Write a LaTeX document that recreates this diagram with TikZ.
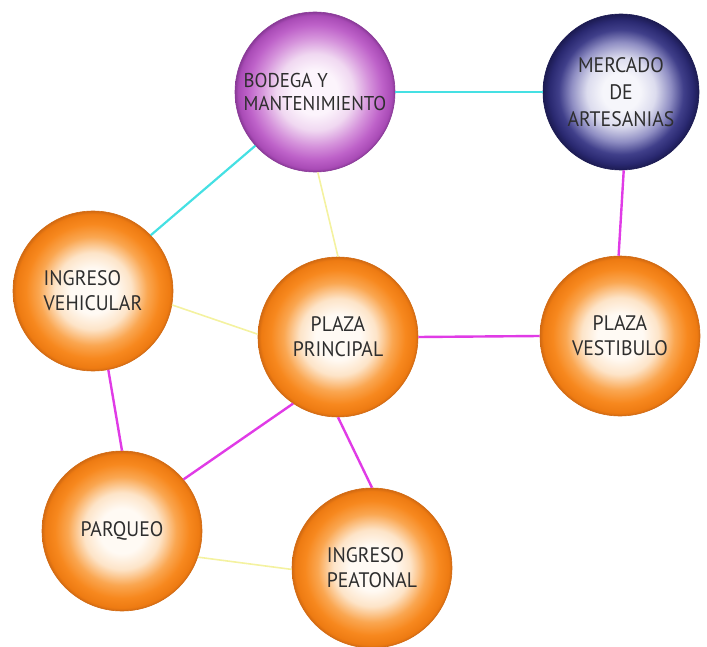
\documentclass[tikz,border=0pt]{standalone}
\usepackage{fontspec}
\setmainfont{PT Sans}[FakeStretch=0.94]
\usetikzlibrary{positioning}

\definecolor{textgray}{HTML}{2E2E2E}
\definecolor{orangeedge}{HTML}{D26A12}
\definecolor{purpleedge}{HTML}{8A3A98}
\definecolor{navyedge}{HTML}{1C1B52}
\definecolor{linkcyan}{HTML}{45E0E3}
\definecolor{linkmagenta}{HTML}{E03BE6}
\definecolor{linkyellow}{HTML}{F4F2A0}

% orange, purple and navy balls
\definecolor{ocA}{HTML}{FFFAF4}
\definecolor{ocB}{HTML}{FDE4C8}
\definecolor{ocC}{HTML}{FAA650}
\definecolor{ocD}{HTML}{F7881E}
\definecolor{ocE}{HTML}{EE7B12}
\definecolor{pcA}{HTML}{FCF4FC}
\definecolor{pcB}{HTML}{F0D8F1}
\definecolor{pcC}{HTML}{D592DB}
\definecolor{pcD}{HTML}{BE62C9}
\definecolor{pcE}{HTML}{A94BB6}
\definecolor{ncA}{HTML}{F6F6FB}
\definecolor{ncB}{HTML}{DCDCEE}
\definecolor{ncC}{HTML}{8F8EC3}
\definecolor{ncD}{HTML}{403F8A}
\definecolor{ncE}{HTML}{2A2971}

\pgfdeclareradialshading{orangeshade}{\pgfpoint{0bp}{0bp}}{%
  color(0bp)=(ocA); color(7bp)=(ocA); color(12bp)=(ocB); color(17bp)=(ocC);
  color(21bp)=(ocD); color(24bp)=(ocE); color(25bp)=(orangeedge); color(50bp)=(orangeedge)}
\pgfdeclareradialshading{purpleshade}{\pgfpoint{0bp}{0bp}}{%
  color(0bp)=(pcA); color(7bp)=(pcA); color(12bp)=(pcB); color(17bp)=(pcC);
  color(21bp)=(pcD); color(24bp)=(pcE); color(25bp)=(purpleedge); color(50bp)=(purpleedge)}
\pgfdeclareradialshading{navyshade}{\pgfpoint{0bp}{0bp}}{%
  color(0bp)=(ncA); color(6bp)=(ncA); color(11bp)=(ncB); color(16bp)=(ncC);
  color(20bp)=(ncD); color(23bp)=(ncE); color(25bp)=(navyedge); color(50bp)=(navyedge)}

\begin{document}
\begin{tikzpicture}[x=1pt, y=-1pt,
      ball/.style={circle, minimum size=160pt, inner sep=0pt, text=textgray,
         line width=0.6pt, font=\fontsize{21}{25}\selectfont},
      orangeball/.style={ball, shading=orangeshade, draw=orangeedge},
      purpleball/.style={ball, shading=purpleshade, draw=purpleedge,
         font=\fontsize{20}{23}\selectfont},
      navyball/.style={ball, shading=navyshade, draw=navyedge, minimum size=156pt,
         font=\fontsize{21}{27}\selectfont},
      cyanlink/.style={draw=linkcyan, line width=2.2pt},
      magentalink/.style={draw=linkmagenta, line width=2.4pt},
      yellowlink/.style={draw=linkyellow, line width=1.6pt}]

      \useasboundingbox (0,0) rectangle (707,647);

      % Draw the zones
      \node[purpleball, align=left] (bodega) at (315,92) {BODEGA Y\\MANTENIMIENTO};
      \node[navyball, align=center] (mercado) at (621,92) {MERCADO\\DE\\ARTESANIAS};
      \node[orangeball, align=left] (vehicular) at (93,291) {INGRESO\\VEHICULAR};
      \node[orangeball, align=center] (principal) at (338,337) {PLAZA\\PRINCIPAL};
      \node[orangeball, align=center] (vestibulo) at (620,336) {PLAZA\\VESTIBULO};
      \node[orangeball] (parqueo) at (122,531) {PARQUEO};
      \node[orangeball, align=left] (peatonal) at (372,568) {INGRESO\\PEATONAL};

      % Connect the zones
      \draw[cyanlink] (bodega.0) -- (mercado.180);
      \draw[cyanlink] (bodega.222) -- (vehicular.44);
      \draw[yellowlink] (bodega.-88) -- (principal.90);
      \draw[magentalink] (mercado.-88) -- (vestibulo.91);
      \draw[yellowlink] (vehicular.-10) -- (principal.178);
      \draw[magentalink] (principal.0) -- (vestibulo.180);
      \draw[magentalink] (vehicular.-79) -- (parqueo.90);
      \draw[magentalink] (principal.236) -- (parqueo.40);
      \draw[magentalink] (principal.-90) -- (peatonal.90);
      \draw[yellowlink] (parqueo.-19) -- (peatonal.181);
   \end{tikzpicture}
\end{document}
